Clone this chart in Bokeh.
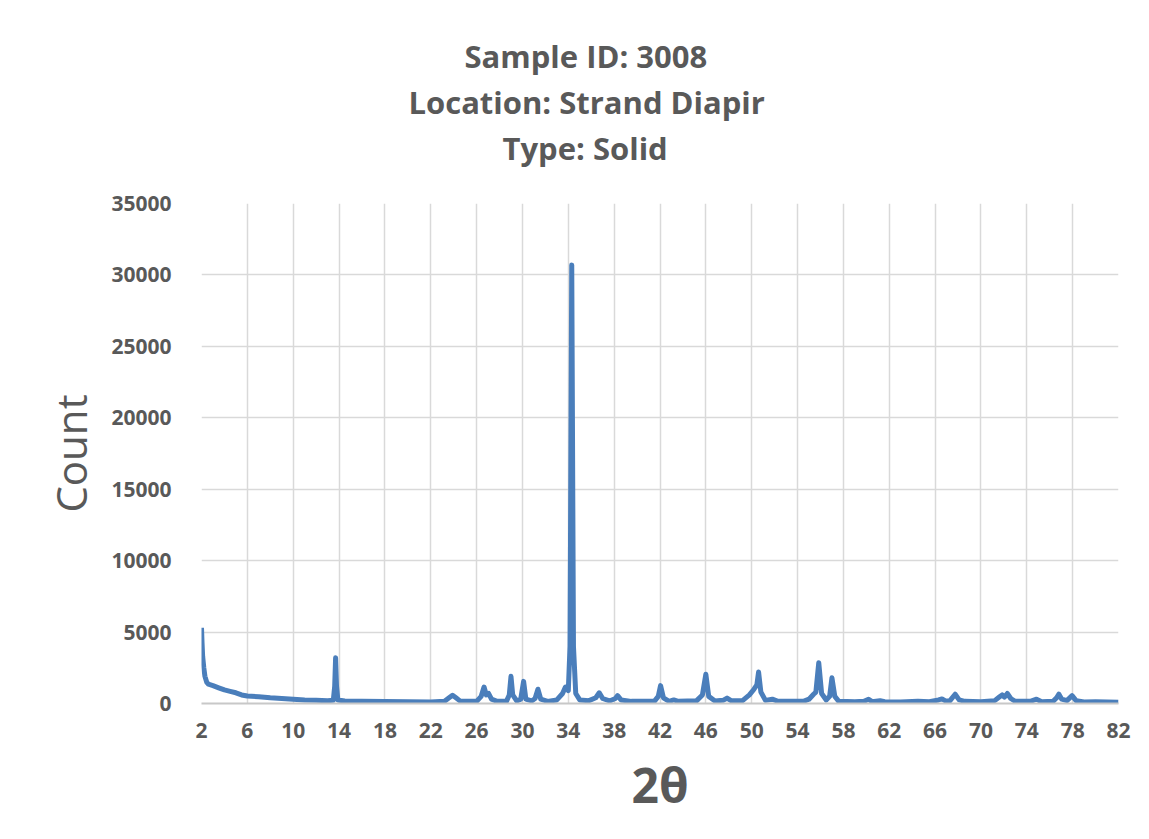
from bokeh.plotting import figure
from bokeh.models import Range1d, FixedTicker, Title, ColumnDataSource
from bokeh.embed import file_html
from bokeh.resources import INLINE

# ---- data (2θ in degrees, counts) ----
two_theta = [
    2.0, 2.05, 2.1, 2.2, 2.3, 2.45, 2.6, 3.0, 3.5, 4.0, 4.5, 5.0, 5.5, 6.0, 7.0, 8.0, 9.0, 10.0,
    11.0, 12.0, 13.0, 13.5, 13.62, 13.7, 13.78, 13.9, 14.5, 16.0, 18.0, 20.0, 22.0,
    23.2, 23.6, 23.9, 24.2, 24.6, 26.0, 26.4, 26.65, 26.85, 27.05, 27.3, 27.8,
    28.6, 28.85, 29.0, 29.15, 29.5, 29.85, 30.1, 30.3, 30.8, 31.1, 31.35, 31.6, 32.2,
    33.0, 33.5, 33.75, 34.0, 34.15, 34.3, 34.45, 34.65, 35.0, 35.8, 36.4, 36.7, 37.0, 37.6,
    38.1, 38.3, 38.6, 39.5, 41.5, 41.85, 42.05, 42.3, 42.8, 43.2, 43.6, 45.2, 45.7, 46.0,
    46.25, 46.8, 47.5, 47.85, 48.2, 49.2, 49.8, 50.2, 50.45, 50.6, 50.8, 51.2, 51.8, 52.3,
    54.5, 55.0, 55.4, 55.6, 55.85, 56.1, 56.5, 56.8, 57.0, 57.25, 57.6, 59.0, 59.8, 60.2,
    60.5, 61.2, 61.6, 63.0, 64.5, 65.5, 66.3, 66.6, 66.9, 67.3, 67.75, 68.1, 68.6, 70.0,
    71.2, 71.6, 71.85, 72.05, 72.3, 72.6, 73.0, 74.3, 74.85, 75.3, 76.3, 76.6, 76.8, 77.05,
    77.5, 77.95, 78.3, 79.0, 80.0, 81.0, 82.0,
]
counts = [
    5300, 4200, 3300, 2500, 1900, 1500, 1350, 1250, 1100, 950, 850, 750, 600, 520, 470, 400, 350, 300,
    250, 220, 200, 220, 1200, 3200, 1200, 250, 180, 160, 140, 120, 110,
    160, 400, 580, 400, 150, 150, 500, 1150, 600, 700, 300, 150,
    150, 600, 1900, 600, 180, 300, 1550, 300, 180, 350, 1000, 300, 150,
    250, 700, 1150, 900, 4000, 30700, 4000, 700, 250, 200, 400, 750, 350, 180,
    350, 550, 250, 150, 150, 500, 1250, 400, 150, 250, 150, 200, 600, 2050,
    500, 180, 220, 380, 200, 200, 600, 1000, 1300, 2200, 800, 220, 300, 150,
    150, 300, 650, 800, 2850, 700, 250, 500, 1800, 500, 150, 120, 150, 300,
    130, 200, 120, 100, 150, 130, 250, 320, 180, 200, 650, 250, 150, 120,
    200, 450, 600, 450, 700, 350, 150, 150, 300, 130, 150, 400, 650, 300,
    200, 550, 200, 100, 120, 100, 80,
]
x_ticks = [2, 6, 10, 14, 18, 22, 26, 30, 34, 38, 42, 46, 50, 54, 58, 62, 66, 70, 74, 78, 82]
y_ticks = [0, 5000, 10000, 15000, 20000, 25000, 30000, 35000]
title_lines = ["Sample ID: 3008", "Location: Strand Diapir", "Type: Solid"]
x_title = "2θ"
y_title = "Count"

TXT = "#595959"
FONT = "Open Sans"

p = figure(width=1141, height=831, output_backend="svg", toolbar_location=None,
           x_range=Range1d(2, 82), y_range=Range1d(0, 35000),
           min_border_left=201, min_border_right=23, min_border_top=203, min_border_bottom=128)
p.outline_line_color = None
p.background_fill_color = "white"
p.border_fill_color = "white"

src = ColumnDataSource(dict(x=two_theta, y=counts))
p.line("x", "y", source=src, line_color="#4A7EBB", line_width=5, line_join="round")

for ax in (p.xaxis[0], p.yaxis[0]):
    ax.major_tick_line_color = None
    ax.minor_tick_line_color = None
    ax.major_label_text_font = FONT
    ax.major_label_text_font_style = "bold"
    ax.major_label_text_font_size = "21px"
    ax.major_label_text_color = TXT
    ax.axis_label_text_font = FONT
    ax.axis_label_text_color = TXT

p.xaxis[0].ticker = FixedTicker(ticks=x_ticks)
p.yaxis[0].ticker = FixedTicker(ticks=y_ticks)
p.xaxis[0].axis_line_color = "#c8c8c8"
p.xaxis[0].axis_line_width = 2
p.yaxis[0].axis_line_color = None
p.xaxis[0].major_label_standoff = 13
p.yaxis[0].major_label_standoff = 24

p.xaxis[0].axis_label = x_title
p.xaxis[0].axis_label_text_font_size = "48px"
p.xaxis[0].axis_label_text_font_style = "bold"
p.xaxis[0].axis_label_standoff = 11
p.yaxis[0].axis_label = y_title
p.yaxis[0].axis_label_text_font_size = "42px"
p.yaxis[0].axis_label_text_font_style = "normal"
p.yaxis[0].axis_label_standoff = 9

p.xgrid[0].ticker = FixedTicker(ticks=x_ticks)
p.ygrid[0].ticker = FixedTicker(ticks=y_ticks)
for g in (p.xgrid[0], p.ygrid[0]):
    g.grid_line_color = "#d9d9d9"
    g.grid_line_width = 1.5

# spacer between the plot area and the title block
p.add_layout(Title(text=" ", text_font_size="1px", standoff=31), "above")

# chart title: three lines, centred over the whole chart (left-aligned with offsets)
title_offsets = [263, 207, 301]
# added nearest-to-plot first
for line, off in reversed(list(zip(title_lines, title_offsets))):
    p.add_layout(Title(text=line, align="left", offset=off, standoff=2,
                       text_font=FONT, text_font_style="bold", text_font_size="31px",
                       text_color=TXT), "above")

open("out.html", "w").write(file_html(p, INLINE))
